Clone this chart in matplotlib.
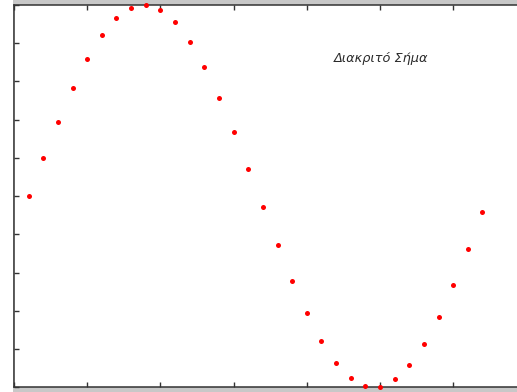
import matplotlib
matplotlib.use("Agg")
import matplotlib.pyplot as plt
from matplotlib.patches import Rectangle

n_samples = list(range(1, 33))
values = [0.0, 0.199, 0.389, 0.565, 0.717, 0.841, 0.932, 0.985,
          1.0, 0.974, 0.909, 0.808, 0.675, 0.516, 0.335, 0.141,
          -0.058, -0.256, -0.443, -0.612, -0.757, -0.872, -0.952, -0.994,
          -0.996, -0.959, -0.883, -0.773, -0.631, -0.465, -0.279, -0.083]
label = "Διακριτό Σήμα"
x_ticks = [0, 5, 10, 15, 20, 25, 30, 35]
y_ticks = [-1, -0.8, -0.6, -0.4, -0.2, 0, 0.2, 0.4, 0.6, 0.8, 1]

W, H = 517, 392
fig = plt.figure(figsize=(W / 100, H / 100), dpi=100, facecolor="white")

# light grey frame around the axes area
fig.add_artist(Rectangle((13 / W, 0), 1 - 13 / W, 1, transform=fig.transFigure,
                         facecolor="#c8c8c8", edgecolor="none", zorder=-5))

left_px, right_px = 14.0, 14.0 + 35 * 14.64
top_px, bot_px = 5.0, 387.3
ax = fig.add_axes([left_px / W, (H - bot_px) / H, (right_px - left_px) / W, (bot_px - top_px) / H])
ax.set_facecolor("white")

ax.plot(n_samples, values, linestyle="none", marker="o", markersize=3.6,
        color="#ff0000", markeredgewidth=0, clip_on=False, zorder=5)

ax.set_xlim(0, 35)
ax.set_ylim(-1, 1)
ax.set_xticks(x_ticks)
ax.set_yticks(y_ticks)
ax.tick_params(direction="in", length=3.8, width=1.0, color="#333333",
               top=True, right=True, labelbottom=False, labelleft=False)
for s in ax.spines.values():
    s.set_color("#333333")
    s.set_linewidth(1.1)

ax.text(21.85, 0.70, label, fontsize=9.3, style="italic",
        family=["DejaVu Sans"], color="#2a2a2a",
        ha="left", va="baseline")

fig.savefig("out.png", dpi=100, facecolor="white")
